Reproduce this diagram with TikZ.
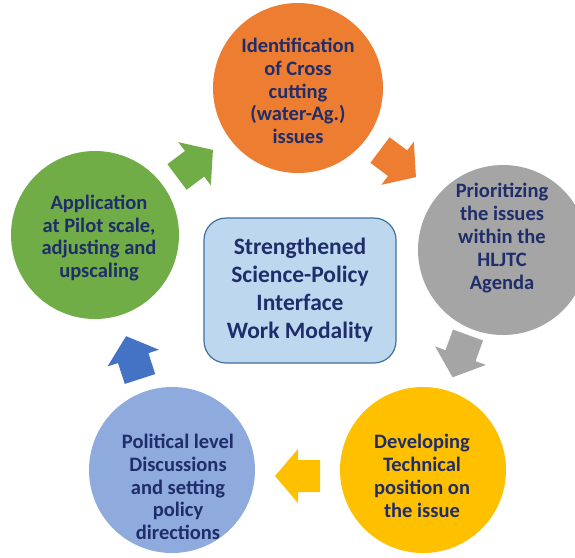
\documentclass[tikz,border=0pt]{standalone}
\usepackage{fontspec}
\setmainfont{Carlito}
\definecolor{cOrange}{HTML}{ED7D31}
\definecolor{cGray}{HTML}{A5A5A5}
\definecolor{cYellow}{HTML}{FFC000}
\definecolor{cBlueC}{HTML}{8FAADC}
\definecolor{cBlueA}{HTML}{4472C4}
\definecolor{cGreen}{HTML}{70AD47}
\definecolor{cNavy}{HTML}{1F2D6B}
\definecolor{cBoxFill}{HTML}{BDD7EE}
\definecolor{cBoxLine}{HTML}{41719C}
\begin{document}
\begin{tikzpicture}[x=1pt,y=1pt,
  stepcircle/.style={circle, draw=none, inner sep=0pt},
  steptext/.style={text=cNavy, align=center, font=\fontsize{20.5}{22.8}\selectfont\bfseries, inner sep=0pt},
  centerbox/.style={draw=cBoxLine, line width=1.2pt, fill=cBoxFill, rounded corners=22pt,
     minimum width=192pt, minimum height=145pt, text=cNavy, align=center,
     font=\fontsize{23.5}{28}\selectfont\bfseries},
  blockarrow/.pic={\fill (0,-16) -- (22,-16) -- (22,-27) -- (45,0) -- (22,27) -- (22,16) -- (0,16) -- cycle;}
]
\useasboundingbox (0,0) rectangle (575,-557);
\clip (0,0) rectangle (575,-557);

% circles
\node[stepcircle, fill=cOrange, minimum size=170pt] (c1) at (298,-88) {};
\node[stepcircle, fill=cGray, minimum size=170pt] (c2) at (503,-250) {};
\node[stepcircle, fill=cYellow, minimum size=166pt] (c3) at (423,-470) {};
\node[stepcircle, fill=cBlueC, minimum size=166pt] (c4) at (172,-470) {};
\node[stepcircle, fill=cGreen, minimum size=168pt] (c5) at (95,-235) {};

% texts
\node[steptext] (t1) at (298,-91) {Identification\\of Cross\\cutting\\(water-Ag.)\\issues};
\node[steptext] (t2) at (502,-238) {Prioritizing\\the issues\\within the\\HLJTC\\Agenda};
\node[steptext] (t3) at (422,-476) {Developing\\Technical\\position on\\the issue};
\node[steptext] (t4) at (178,-487) {Political level\\Discussions\\and setting\\policy\\directions};
\node[steptext] (t5) at (99,-238) {Application\\at Pilot scale,\\adjusting and\\upscaling};

% center box
\node[centerbox] (box) at (300,-290.5) {Strengthened\\Science-Policy\\Interface\\Work Modality};

% arrows
\pic[color=cOrange, rotate=-37] at (380,-150) {blockarrow};
\pic[color=cGray, rotate=-110] at (468,-335) {blockarrow};
\pic[color=cYellow, rotate=180] at (320,-476) {blockarrow};
\pic[color=cBlueA, rotate=108] at (140,-379) {blockarrow};
\pic[color=cGreen, rotate=37] at (177,-177) {blockarrow};
\end{tikzpicture}
\end{document}
